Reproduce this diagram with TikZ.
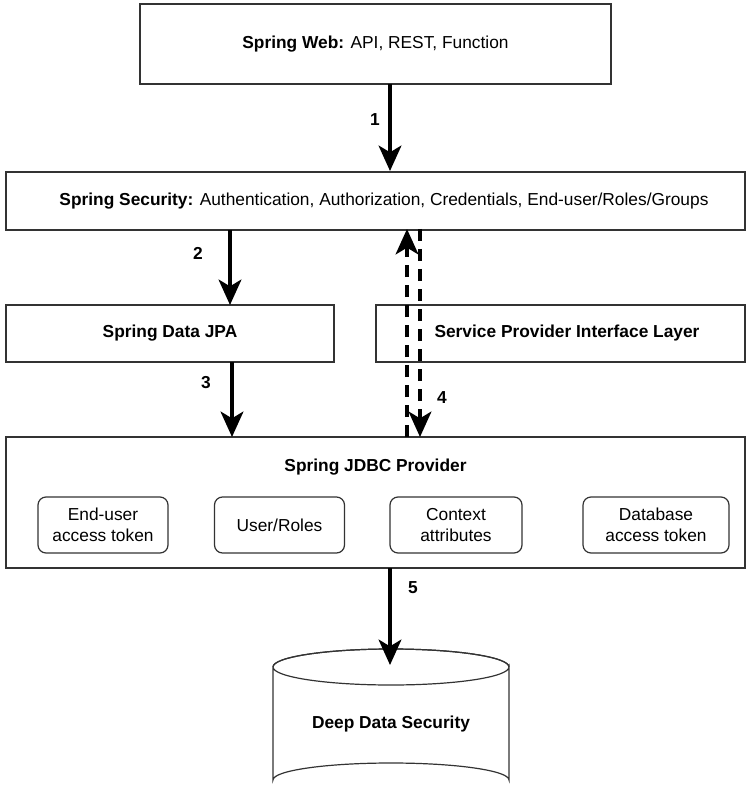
\documentclass[tikz,border=0pt]{standalone}
\usepackage{fontspec}
\setmainfont{Liberation Sans}
\usetikzlibrary{arrows.meta}
\begin{document}
\begin{tikzpicture}[x=0.75pt,y=-0.75pt,
  box/.style={draw=black!80, line width=0.9pt, fill=white},
  inner/.style={draw=black!80, line width=0.9pt, rounded corners=6pt, fill=white, align=center, font=\fontsize{13}{16}\selectfont},
  txt/.style={font=\fontsize{13}{16}\selectfont, align=center},
  flow/.style={line width=3pt, -{Stealth[length=19pt,width=17pt,inset=5pt]}},
  dflow/.style={line width=3pt, dash pattern=on 9pt off 6pt, -{Stealth[length=19pt,width=17pt,inset=5pt]}},
  num/.style={font=\bfseries\fontsize{13}{16}\selectfont}]
\useasboundingbox (0,0) rectangle (750,798);
% boxes
\draw[box] (140,4) rectangle (611,84);
\node[txt] (web) at (375.5,44) {\textbf{Spring Web:} API, REST, Function};
\draw[box] (6,172) rectangle (745,230);
\node[txt] (sec) at (384,201) {\textbf{Spring Security:} Authentication, Authorization, Credentials, End-user/Roles/Groups};
\draw[box] (6,305) rectangle (334,362);
\node[txt] (jpa) at (170,333) {\textbf{Spring Data JPA}};
\draw[box] (376,305) rectangle (745,362);
\node[txt] (spi) at (567,333) {\textbf{Service Provider Interface Layer}};
\draw[box] (6,437) rectangle (745,568);
\node[txt] (jdbc) at (375.5,467) {\textbf{Spring JDBC Provider}};
% inner boxes
\node[inner, minimum width=130*0.75pt, minimum height=56*0.75pt] (b1) at (103,525) {End-user\\access token};
\node[inner, minimum width=130*0.75pt, minimum height=56*0.75pt] (b2) at (279.5,525) {User/Roles};
\node[inner, minimum width=132*0.75pt, minimum height=56*0.75pt] (b3) at (456,525) {Context\\attributes};
\node[inner, minimum width=146*0.75pt, minimum height=56*0.75pt] (b4) at (656,525) {Database\\access token};
% cylinder
\draw[box] (273,667) -- (273,780) arc[start angle=180,end angle=360,x radius=118,y radius=17] -- (509,667)
  arc[start angle=0,end angle=360,x radius=118,y radius=18];
\draw[draw=black!80, line width=0.9pt] (273,667) arc[start angle=180,end angle=360,x radius=118,y radius=18];
\node[txt] (db) at (391,724) {\textbf{Deep Data Security}};
% arrow anchors
\coordinate (a1s) at (390,84); \coordinate (a1e) at (390,171);
\coordinate (a2s) at (230,230); \coordinate (a2e) at (230,305);
\coordinate (a3s) at (232,362); \coordinate (a3e) at (232,437);
\coordinate (a4us) at (407,437); \coordinate (a4ue) at (407,229);
\coordinate (a4ds) at (420,229); \coordinate (a4de) at (420,437);
\coordinate (a5s) at (390,568); \coordinate (a5e) at (390,665);
\draw[flow] (a1s) -- (a1e);
\draw[flow] (a2s) -- (a2e);
\draw[flow] (a3s) -- (a3e);
\draw[dflow] (a4us) -- (a4ue);
\draw[dflow] (a4ds) -- (a4de);
\draw[flow] (a5s) -- (a5e);
\node[num] (n1) at (375,120) {1};
\node[num] (n2) at (198,253) {2};
\node[num] (n3) at (206,383) {3};
\node[num] (n4) at (442,398) {4};
\node[num] (n5) at (413,588) {5};
\end{tikzpicture}
\end{document}
